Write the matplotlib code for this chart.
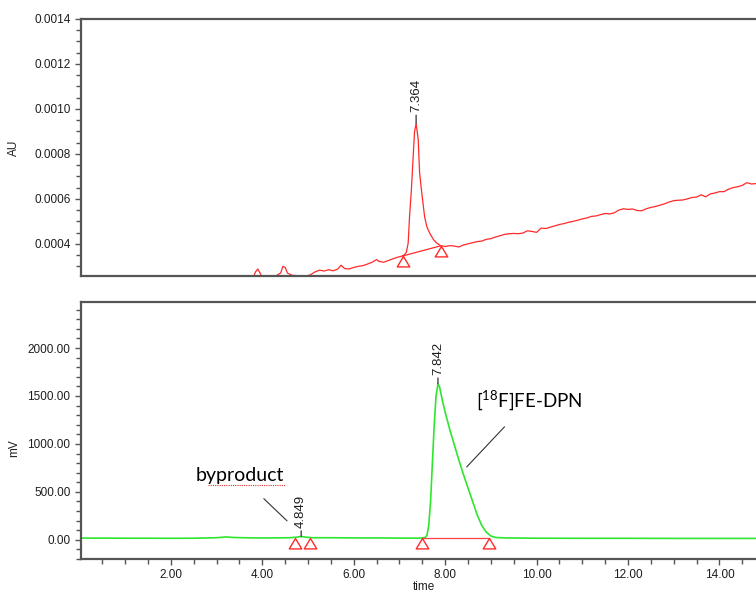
import numpy as np
import matplotlib.pyplot as plt
from matplotlib.ticker import MultipleLocator, FormatStrFormatter

plt.rcParams['font.family'] = ['Liberation Sans', 'DejaVu Sans']
plt.rcParams['mathtext.fontset'] = 'custom'
plt.rcParams['mathtext.rm'] = 'Lato'

# --- UV trace (top, AU) ---
uv_time = [0.0, 1.0, 2.0, 3.0, 3.6, 3.80, 3.85, 3.90, 3.95, 4.00, 4.20, 4.30, 4.40, 4.45,
           4.50, 4.55, 4.65, 4.80, 4.95, 5.05, 5.15, 5.25, 5.35, 5.45, 5.55, 5.65, 5.72,
           5.80, 5.90, 6.00, 6.10, 6.20, 6.30, 6.40, 6.50, 6.55, 6.65, 6.75, 6.85, 6.95,
           7.05, 7.10, 7.15, 7.19, 7.22, 7.26, 7.30, 7.33, 7.364, 7.41, 7.44, 7.48, 7.55,
           7.60, 7.66, 7.74, 7.81, 7.90, 8.00, 8.10, 8.20, 8.30, 8.40, 8.50, 8.60, 8.70,
           8.80, 8.90, 9.00, 9.10, 9.20, 9.30, 9.40, 9.50, 9.60, 9.70, 9.80, 9.90, 10.00,
           10.10, 10.20, 10.30, 10.40, 10.50, 10.60, 10.70, 10.80, 10.90, 11.00, 11.10,
           11.20, 11.30, 11.40, 11.50, 11.60, 11.70, 11.80, 11.90, 12.00, 12.10, 12.20,
           12.30, 12.40, 12.50, 12.60, 12.70, 12.80, 12.90, 13.00, 13.10, 13.20, 13.30,
           13.40, 13.50, 13.60, 13.70, 13.80, 13.90, 14.00, 14.10, 14.20, 14.30, 14.40,
           14.50, 14.60, 14.70, 14.80]
uv_au = [0.000200, 0.000210, 0.000220, 0.000230, 0.000245, 0.000250, 0.000275, 0.000288,
         0.000270, 0.000250, 0.000252, 0.000258, 0.000270, 0.000300, 0.000295, 0.000270,
         0.000260, 0.000258, 0.000256, 0.000262, 0.000275, 0.000283, 0.000279, 0.000285,
         0.000280, 0.000288, 0.000305, 0.000290, 0.000288, 0.000295, 0.000300, 0.000303,
         0.000310, 0.000318, 0.000330, 0.000322, 0.000318, 0.000325, 0.000333, 0.000340,
         0.000345, 0.000350, 0.000362, 0.000403, 0.000520, 0.000640, 0.000790, 0.000900,
         0.000935, 0.000864, 0.000717, 0.000640, 0.000520, 0.000475, 0.000448, 0.000420,
         0.000404, 0.000392, 0.000388, 0.000392, 0.000390, 0.000386, 0.000395, 0.000400,
         0.000405, 0.000410, 0.000412, 0.000420, 0.000423, 0.000430, 0.000436, 0.000442,
         0.000445, 0.000446, 0.000445, 0.000448, 0.000458, 0.000455, 0.000451, 0.000470,
         0.000468, 0.000474, 0.000480, 0.000486, 0.000490, 0.000496, 0.000500, 0.000505,
         0.000511, 0.000515, 0.000522, 0.000524, 0.000530, 0.000535, 0.000533, 0.000538,
         0.000550, 0.000556, 0.000553, 0.000555, 0.000548, 0.000547, 0.000556, 0.000562,
         0.000566, 0.000572, 0.000578, 0.000586, 0.000592, 0.000594, 0.000595, 0.000600,
         0.000606, 0.000608, 0.000618, 0.000609, 0.000622, 0.000626, 0.000632, 0.000632,
         0.000643, 0.000650, 0.000654, 0.000660, 0.000672, 0.000666, 0.000668]
uv_peak = (7.364, 0.000935, "7.364")
uv_marks_x = [7.07, 7.90]
uv_marks_y = [0.000346, 0.000391]

# --- radio trace (bottom, mV) ---
rad_time = [0.0, 0.5, 1.0, 1.5, 2.0, 2.5, 3.0, 3.2, 3.4, 3.8, 4.2, 4.6, 4.75, 4.849, 4.95,
            5.1, 5.5, 6.0, 6.5, 7.0, 7.40, 7.50, 7.56, 7.60, 7.64, 7.68, 7.72, 7.76, 7.80,
            7.842, 7.88, 7.94, 8.00, 8.05, 8.10, 8.20, 8.30, 8.40, 8.50, 8.60, 8.70, 8.80,
            8.90, 9.00, 9.10, 9.30, 10.0, 11.0, 12.0, 13.0, 14.0, 14.8]
rad_mv = [18, 18, 17, 17, 16, 17, 22, 30, 24, 20, 20, 22, 28, 35, 28,
          22, 22, 20, 20, 18, 18, 20, 25, 45, 150, 400, 800, 1200, 1500,
          1630, 1590, 1450, 1330, 1240, 1150, 990, 830, 680, 540, 400, 260, 150,
          80, 40, 25, 20, 17, 16, 16, 15, 15, 15]
rad_peaks = [(4.849, 35, "4.849"), (7.842, 1630, "7.842")]
rad_marks_x = [4.71, 5.05, 7.50, 8.95]
rad_marks_y = [24, 24, 22, 22]

# apex-down triangle marker (apex sits on the baseline point)
tri = [(0, 0), (-0.6, -1), (0.6, -1), (0, 0)]
dark = '#1e1e1e'
spine_c = '#555555'

fig = plt.figure(figsize=(7.56, 5.93), dpi=100)
ax1 = fig.add_axes([0.107, 0.5346, 0.893, 0.4334])
ax2 = fig.add_axes([0.107, 0.0573, 0.893, 0.4334])

for ax in (ax1, ax2):
    ax.set_xlim(0.03, 14.8)
    for s in ('left', 'bottom', 'top'):
        ax.spines[s].set_color(spine_c)
        ax.spines[s].set_linewidth(1.6)
    ax.spines['right'].set_visible(False)
    ax.tick_params(axis='both', which='both', direction='out', colors=spine_c,
                   labelcolor=dark, labelsize=8.5, width=1.0)
    ax.tick_params(which='major', length=4)
    ax.tick_params(which='minor', length=3.5)

# top panel
ax1.plot(uv_time, uv_au, color='#ff2a2a', lw=0.9)
ax1.plot(uv_marks_x, uv_marks_y, color='#ff2a2a', lw=0.9)
ax1.plot(uv_marks_x, uv_marks_y, ls='none', marker=tri, ms=15, mfc='none',
         mec='#ff2a2a', mew=1.0, clip_on=False)
ax1.set_ylim(0.000257, 0.0014)
ax1.yaxis.set_major_locator(MultipleLocator(0.0002))
ax1.yaxis.set_minor_locator(MultipleLocator(0.00005))
ax1.yaxis.set_major_formatter(FormatStrFormatter('%.4f'))
ax1.set_xticks([])
ax1.set_ylabel("AU", fontsize=8.5, color=dark)
ax1.yaxis.set_label_coords(-0.09, 0.5)
ax1.annotate(uv_peak[2], xy=uv_peak[:2], xytext=(0, 8), textcoords='offset points',
             rotation=90, ha='center', va='bottom', fontsize=9.5, color=dark,
             arrowprops=dict(arrowstyle='-', color='#333333', lw=0.9, shrinkA=0, shrinkB=0))

# bottom panel
ax2.plot(rad_time, rad_mv, color='#2ee62e', lw=1.2)
ax2.plot(rad_marks_x[2:], rad_marks_y[2:], color='#ff4040', lw=0.9)
ax2.plot(rad_marks_x, rad_marks_y, ls='none', marker=tri, ms=15, mfc='none',
         mec='#ff2a2a', mew=1.0, clip_on=False)
ax2.set_ylim(-200, 2480)
ax2.yaxis.set_major_locator(MultipleLocator(500))
ax2.yaxis.set_minor_locator(MultipleLocator(100))
ax2.yaxis.set_major_formatter(FormatStrFormatter('%.2f'))
ax2.xaxis.set_major_locator(MultipleLocator(2))
ax2.xaxis.set_minor_locator(MultipleLocator(0.5))
ax2.xaxis.set_major_formatter(FormatStrFormatter('%.2f'))
ax2.set_ylabel("mV", fontsize=8.5, color=dark)
ax2.yaxis.set_label_coords(-0.09, 0.43)
ax2.set_xlabel("time", fontsize=8.5, color=dark)
ax2.xaxis.set_label_coords(0.508, -0.085)
for px, py, lab in rad_peaks:
    ax2.annotate(lab, xy=(px, py), xytext=(0, 6), textcoords='offset points',
                 rotation=90, ha='center', va='bottom', fontsize=9.5, color=dark,
                 arrowprops=dict(arrowstyle='-', color='#333333', lw=0.9,
                                 shrinkA=0, shrinkB=0))

# callouts
ax2.annotate("byproduct", xy=(4.54, 198), xytext=(3.51, 667), ha='center', va='center',
             fontsize=14, family=['Lato', 'DejaVu Sans'], color='black',
             arrowprops=dict(arrowstyle='-', color='#333333', lw=0.8,
                             shrinkA=12, shrinkB=0))
ax2.plot([2.80, 4.50], [573, 573], color='#e03030', lw=0.8, ls=(0, (1, 1)))
ax2.annotate(r"[$\mathrm{^{18}}$F]FE-DPN", xy=(8.47, 760), xytext=(9.85, 1458),
             ha='center', va='center', fontsize=13.5, family=['Lato', 'DejaVu Sans'],
             color='black',
             arrowprops=dict(arrowstyle='-', color='#333333', lw=0.8,
                             shrinkA=12, shrinkB=0))

fig.savefig("out.png", dpi=100)
